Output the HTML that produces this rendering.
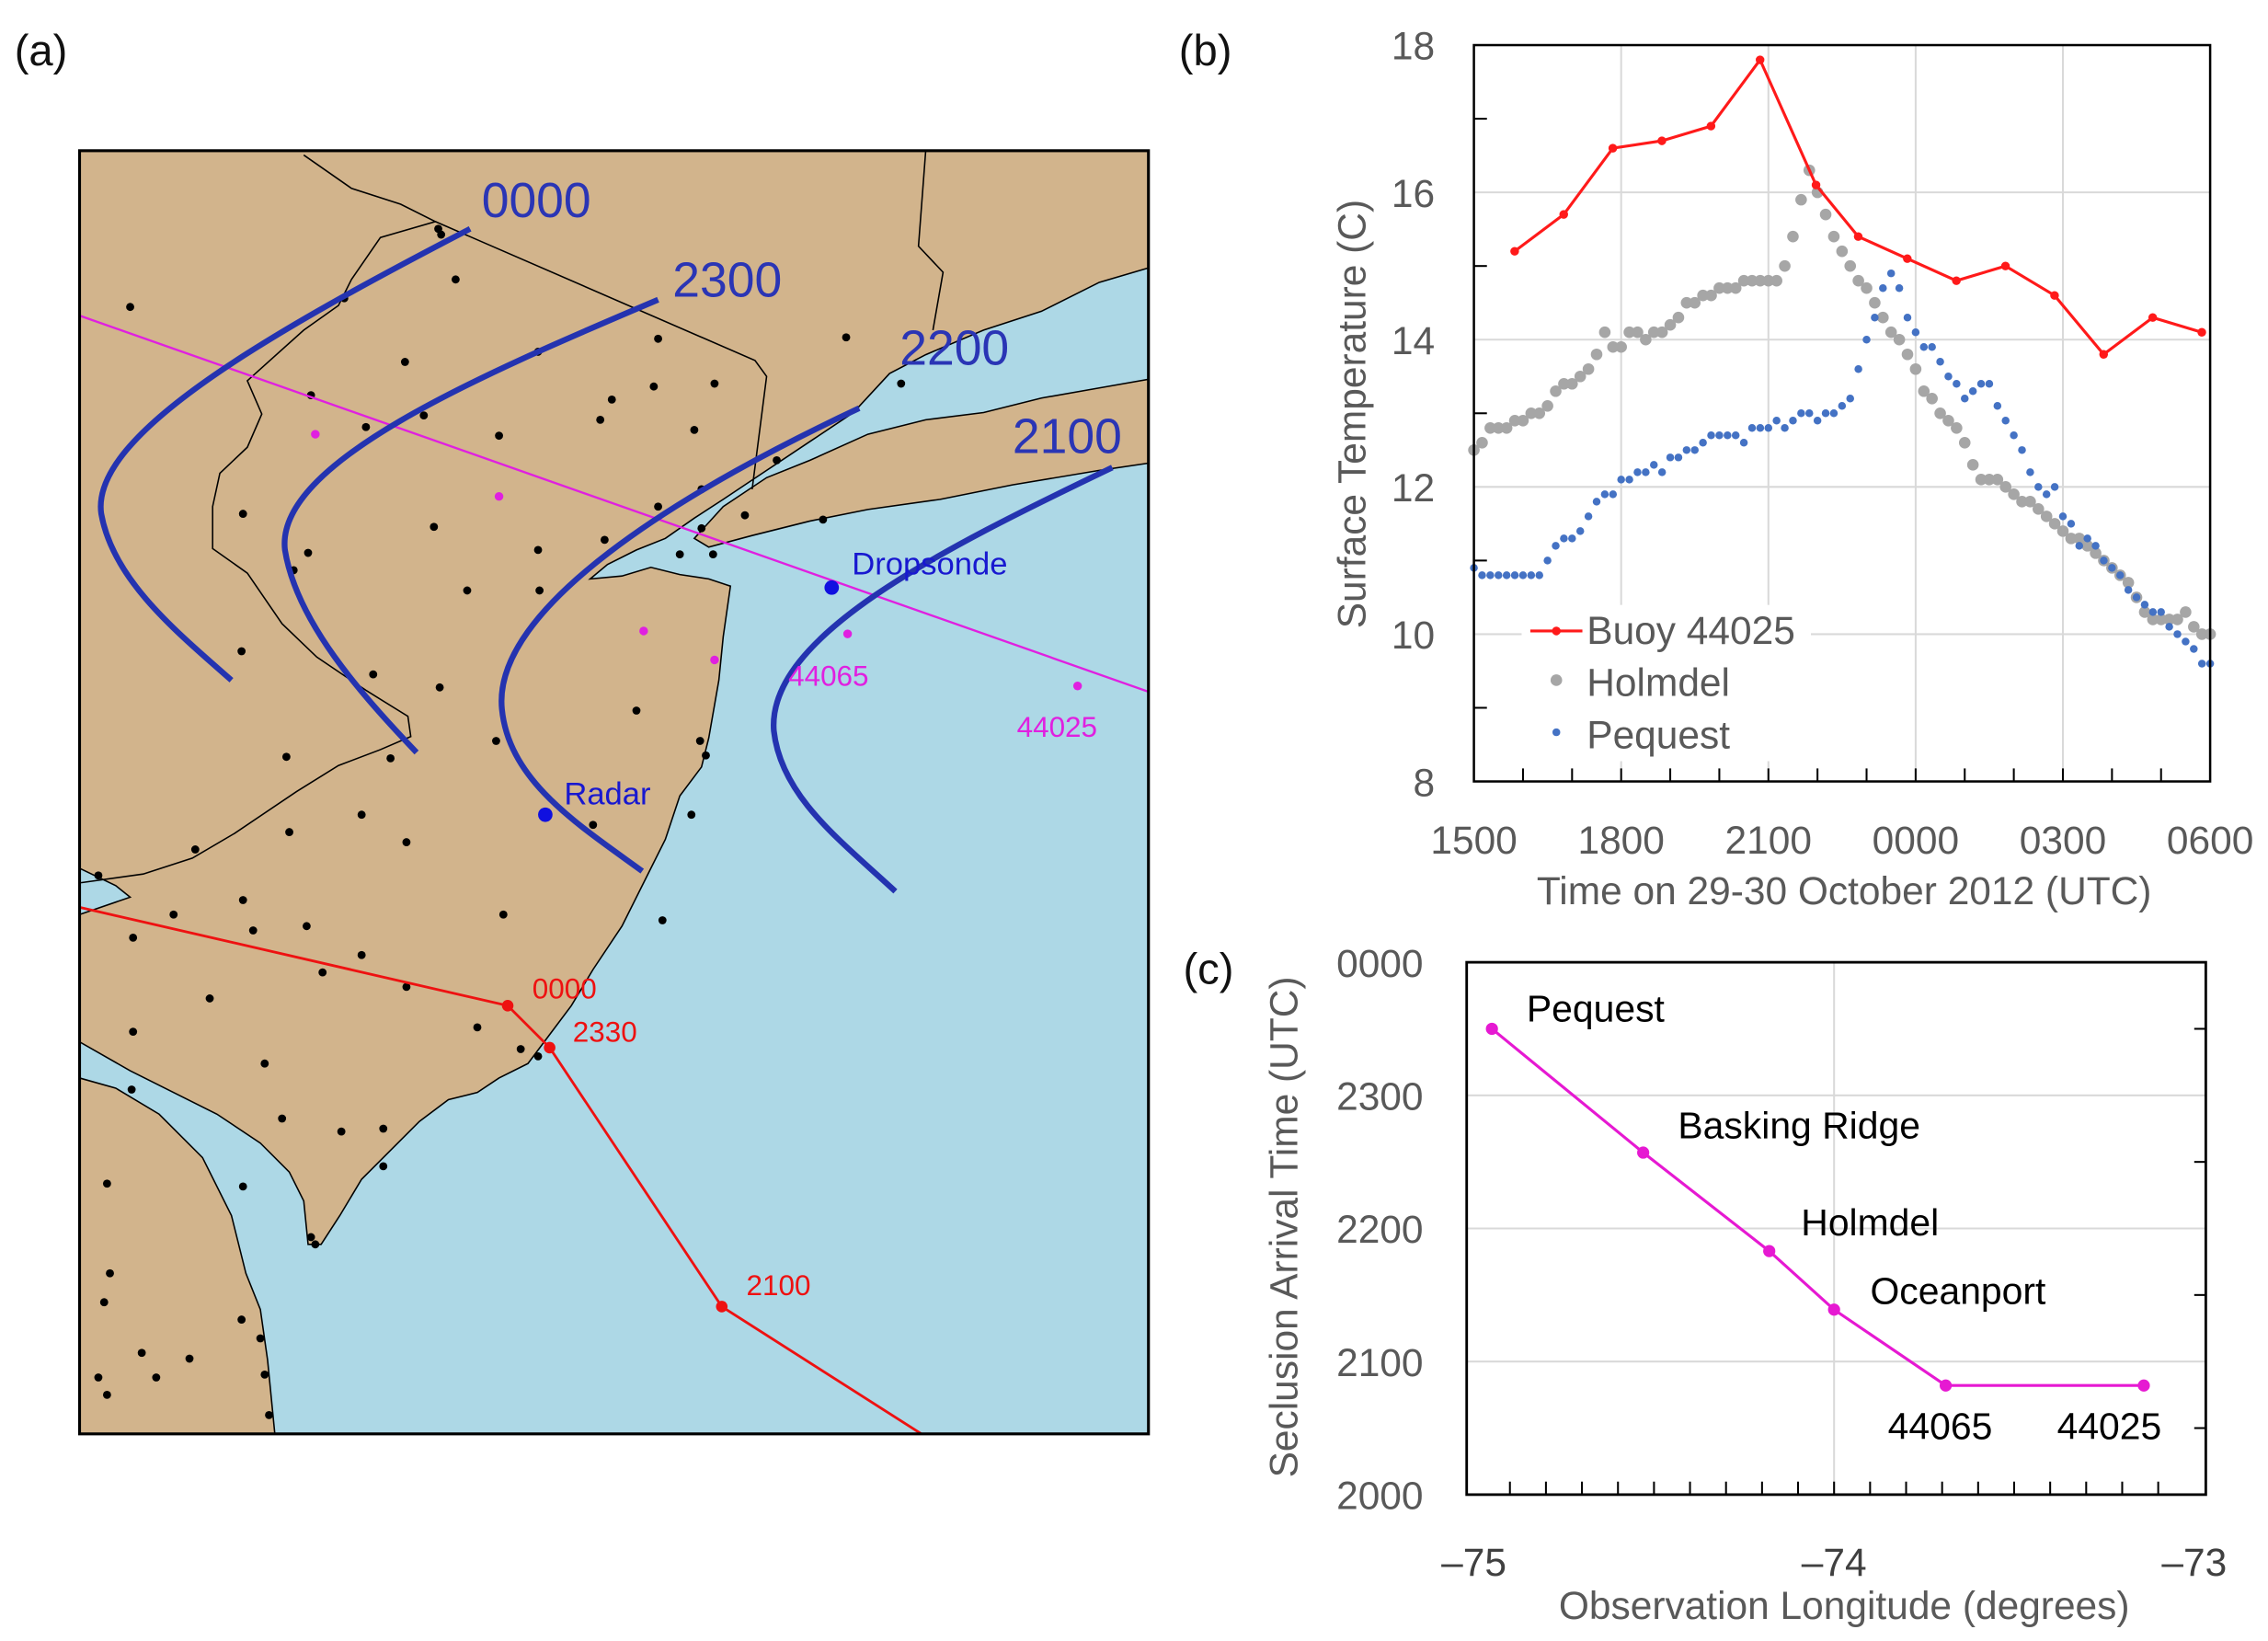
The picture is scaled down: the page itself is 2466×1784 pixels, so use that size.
<!DOCTYPE html>
<html><head><meta charset="utf-8"><style>
html,body{margin:0;padding:0;background:#fff}
svg{display:block}
text{font-family:"Liberation Sans",sans-serif}
</style></head><body>
<svg id="fig" xmlns="http://www.w3.org/2000/svg" width="2466" height="1784" viewBox="0 0 1568 1134">
<rect width="1568" height="1134" fill="#fff"/>
<g id="panelA">
  <text x="10" y="45" font-size="30" fill="#111">(a)</text>
  <clipPath id="mapclip"><rect x="55" y="104" width="739" height="887"/></clipPath>
  <g clip-path="url(#mapclip)">
    <rect x="55" y="104" width="739" height="887" fill="#add8e6"/>
    <polygon fill="#d2b48c" stroke="#000" stroke-width="1" points="55,104 794,104 794,185 760,195 720,215 680,228 640,245 615,258 590,285 560,305 530,325 500,345 480,358 460,372 440,380 420,390 408,400 430,398 450,392 470,397 490,400 505,405 500,440 497,470 490,510 485,530 470,550 460,580 445,610 430,640 410,670 395,695 380,715 365,735 345,745 330,755 310,760 290,775 270,795 250,815 235,840 222,860 213,860 210,830 200,810 180,790 150,770 120,755 90,740 55,720"/>
    <polygon fill="#d2b48c" stroke="#000" stroke-width="1" points="55,745 80,752 110,770 140,800 160,840 170,880 180,905 185,940 190,991 55,991"/>
    <polygon fill="#d2b48c" stroke="#000" stroke-width="1" points="480,372 500,350 530,330 560,318 600,300 640,290 680,285 720,275 760,268 794,262 794,320 760,325 700,335 650,345 600,352 560,360 520,370 490,378"/>
    <polygon fill="#add8e6" stroke="#000" stroke-width="1" points="55,600 80,612 90,620 55,632"/>
    <polyline fill="none" stroke="#000" stroke-width="1" points="301,153 522,249 530,260 520,338"/>
    <polyline fill="none" stroke="#000" stroke-width="1" points="210,107 243,130 277,141 301,153 263,164 243,193 234,211 210,228 171,263 181,286 171,309 152,327 147,350 147,379 171,396 195,431 219,454 253,477 282,495 284,509 263,518 234,529 205,547 162,576 133,593 99,604 56,610"/>
    <polyline fill="none" stroke="#000" stroke-width="1" points="640,104 635,170 652,188 645,228"/>
    <g id="mapDots"></g>
    <line x1="55" y1="218" x2="794" y2="478" stroke="#e020e0" stroke-width="1.5"/>
    <polyline fill="none" stroke="#ee1111" stroke-width="1.8" points="55,627 351,695 380,724 499,903 637,991"/>
    <path d="M325,158 C190,228 62,300 70,355 C78,400 120,435 160,470" fill="none" stroke="#2433b0" stroke-width="4"/>
    <path d="M455,207 C330,260 190,320 197,380 C205,430 250,480 288,520" fill="none" stroke="#2433b0" stroke-width="4"/>
    <path d="M594,282 C470,340 340,420 347,490 C352,540 400,570 444,602" fill="none" stroke="#2433b0" stroke-width="4"/>
    <path d="M769,323 C650,380 530,440 535,505 C540,550 580,580 619,616" fill="none" stroke="#2433b0" stroke-width="4"/>
  </g>
  <g fill="#e020e0">
    <circle cx="218" cy="300" r="3"/><circle cx="345" cy="343" r="3"/><circle cx="445" cy="436" r="3"/><circle cx="494" cy="456" r="3"/><circle cx="586" cy="438" r="3"/><circle cx="745" cy="474" r="3"/>
  </g>
  <text x="545" y="474" font-size="20" fill="#e020e0">44065</text>
  <text x="703" y="509" font-size="20" fill="#e020e0">44025</text>
  <circle cx="575" cy="406" r="5" fill="#1010e0"/>
  <text x="589" y="397" font-size="22" fill="#1818d0">Dropsonde</text>
  <circle cx="377" cy="563" r="5" fill="#1010e0"/>
  <text x="390" y="556" font-size="22" fill="#1818d0">Radar</text>
  <g fill="#ee1111"><circle cx="351" cy="695" r="4"/><circle cx="380" cy="724" r="4"/><circle cx="499" cy="903" r="4"/></g>
  <text x="368" y="690" font-size="20" fill="#ee1111">0000</text>
  <text x="396" y="720" font-size="20" fill="#ee1111">2330</text>
  <text x="516" y="895" font-size="20" fill="#ee1111">2100</text>
  <g font-size="34" fill="#2a35b5">
    <text x="333" y="150">0000</text><text x="465" y="205">2300</text><text x="622" y="252">2200</text><text x="700" y="313">2100</text>
  </g>
  <rect x="55" y="104" width="739" height="887" fill="none" stroke="#000" stroke-width="2"/>
</g>
<g id="panelB">
  <text x="815" y="45" font-size="30" fill="#111">(b)</text>
</g>
<g id="panelC">
  <text x="818" y="680" font-size="30" fill="#111">(c)</text>
</g>
</svg>
<script>
// ---- Panel (b) data ----
const bXTickLabels = ["1500","1800","2100","0000","0300","0600"];
const bYTicks = [8,10,12,14,16,18];
const buoyHours = [0.83,1.83,2.83,3.83,4.83,5.83,6.97,7.83,8.83,9.83,10.83,11.83,12.83,13.83,14.83];
const buoyTemps = [15.2,15.7,16.6,16.7,16.9,17.8,16.1,15.4,15.1,14.8,15.0,14.6,13.8,14.3,14.1];
const holmdelTemps = [12.5,12.6,12.8,12.8,12.8,12.9, 12.9,13.0,13.0,13.1,13.3,13.4, 13.4,13.5,13.6,13.8,14.1,13.9, 13.9,14.1,14.1,14.0,14.1,14.1, 14.2,14.3,14.5,14.5,14.6,14.6, 14.7,14.7,14.7,14.8,14.8,14.8, 14.8,14.8,15.0,15.4,15.9,16.3, 16.0,15.7,15.4,15.2,15.0,14.8, 14.7,14.5,14.3,14.1,14.0,13.8, 13.6,13.3,13.2,13.0,12.9,12.8, 12.6,12.3,12.1,12.1,12.1,12.0, 11.9,11.8,11.8,11.7,11.6,11.5, 11.4,11.3,11.3,11.2,11.1,11.0, 10.9,10.8,10.7,10.5,10.3,10.2, 10.2,10.2,10.2,10.3,10.1,10.0, 10.0];
const pequestTemps = [10.9,10.8,10.8,10.8,10.8,10.8, 10.8,10.8,10.8,11.0,11.2,11.3, 11.3,11.4,11.6,11.8,11.9,11.9, 12.1,12.1,12.2,12.2,12.3,12.2, 12.4,12.4,12.5,12.5,12.6,12.7, 12.7,12.7,12.7,12.6,12.8,12.8, 12.8,12.9,12.8,12.9,13.0,13.0, 12.9,13.0,13.0,13.1,13.2,13.6, 14.0,14.3,14.7,14.9,14.7,14.3, 14.1,13.9,13.9,13.7,13.5,13.4, 13.2,13.3,13.4,13.4,13.1,12.9, 12.7,12.5,12.2,12.0,11.9,12.0, 11.6,11.5,11.2,11.3,11.2,11.0, 10.9,10.8,10.6,10.5,10.4,10.3, 10.3,10.1,10.0,9.9,9.8,9.6, 9.6];
const sampleStepHours = 1/6;
// ---- Panel (c) data ----
const stationNames = ["Pequest","Basking Ridge","Holmdel","Oceanport","44065","44025"];
const stationLons = [-74.95,-74.53,-74.18,-74.0,-73.69,-73.14];
const arrivalHours = [23.5,22.57,21.83,21.39,20.82,20.82];
const cYTickLabels = ["2000","2100","2200","2300","0000"];
const cXTickValues = [-75,-74,-73];
// ---- Map station dots ----
const mapDotPos = [[90,212],[303,158],[305,162],[315,193],[238,206],[215,273],[280,250],[293,287],[253,295],[372,243],[455,234],[423,276],[452,267],[494,265],[480,297],[415,290],[345,301],[168,355],[213,382],[203,394],[300,364],[323,408],[373,408],[372,380],[418,373],[455,350],[485,338],[470,383],[485,365],[515,356],[537,318],[569,359],[585,233],[623,265],[493,383],[167,450],[258,466],[304,475],[343,512],[198,523],[270,524],[250,563],[200,575],[281,582],[440,491],[484,512],[488,522],[478,563],[410,570],[348,632],[458,636],[135,587],[68,605],[120,632],[92,648],[168,622],[175,643],[212,640],[223,672],[250,660],[281,682],[145,690],[92,713],[183,735],[330,710],[372,730],[360,725],[91,753],[195,773],[236,782],[265,806],[265,780],[168,820],[215,855],[218,860],[74,818],[76,880],[72,900],[98,935],[131,939],[108,952],[68,952],[74,964],[167,912],[180,925],[183,950],[186,978]];

const NS="http://www.w3.org/2000/svg";
function mk(tag, attrs, parent){const e=document.createElementNS(NS,tag);for(const k in attrs)e.setAttribute(k,attrs[k]);parent.appendChild(e);return e;}

const dotsG=document.getElementById('mapDots');
mapDotPos.forEach(p=>{const c=mk('circle',{cx:p[0],cy:p[1],r:2.8,fill:'#000'},dotsG);

});

// ---- Panel (b) ----
const B={l:1019,r:1528,t:31,b:540};
const bx=h=>B.l+h*(B.r-B.l)/15;
const by=v=>B.b-(v-8)*(B.b-B.t)/10;
const gB=document.getElementById('panelB');
[3,6,9,12].forEach(h=>{const g=mk('line',{x1:bx(h),x2:bx(h),y1:B.t,y2:B.b,stroke:'#d9d9d9','stroke-width':1.3},gB);

});
[10,12,14,16].forEach(v=>{const g=mk('line',{x1:B.l,x2:B.r,y1:by(v),y2:by(v),stroke:'#d9d9d9','stroke-width':1.3},gB);

});
for(let h=1;h<15;h++){const t=mk('line',{x1:bx(h),x2:bx(h),y1:B.b,y2:B.b-9,stroke:'#000','stroke-width':1.3},gB);

}
[9,11,13,15,17].forEach(v=>{const t=mk('line',{x1:B.l,x2:B.l+9,y1:by(v),y2:by(v),stroke:'#000','stroke-width':1.3},gB);

});
bXTickLabels.forEach((s,i)=>{const t=mk('text',{x:bx(i*3),y:590,'font-size':27,'text-anchor':'middle',fill:'#595959'},gB);t.textContent=s;

});
bYTicks.forEach(v=>{const t=mk('text',{x:992,y:by(v)+10,'font-size':27,'text-anchor':'end',fill:'#595959'},gB);t.textContent=v;

});
let tt=mk('text',{x:1275,y:625,'font-size':27,'text-anchor':'middle',fill:'#595959'},gB);tt.textContent='Time on 29-30 October 2012 (UTC)';


tt=mk('text',{x:944,y:286,'font-size':27,'text-anchor':'middle',fill:'#595959',transform:'rotate(-90 944 286)'},gB);tt.textContent='Surface Temperature (C)';


const lg=mk('rect',{x:1052,y:418,width:200,height:108,fill:'#fff'},gB);


holmdelTemps.forEach((v,i)=>{const c=mk('circle',{cx:bx(i*sampleStepHours),cy:by(v),r:4,fill:'#a6a6a6'},gB);

});
pequestTemps.forEach((v,i)=>{const c=mk('circle',{cx:bx(i*sampleStepHours),cy:by(v),r:2.7,fill:'#4472c4'},gB);

});
const bl=mk('polyline',{points:buoyHours.map((h,i)=>bx(h)+','+by(buoyTemps[i])).join(' '),fill:'none',stroke:'#ff1a1a','stroke-width':2},gB);


buoyHours.forEach((h,i)=>{const c=mk('circle',{cx:bx(h),cy:by(buoyTemps[i]),r:3,fill:'#ff1a1a'},gB);

});
let le=mk('line',{x1:1058,x2:1094,y1:436,y2:436,stroke:'#ff1a1a','stroke-width':2},gB);


mk('circle',{cx:1076,cy:436,r:3,fill:'#ff1a1a'},gB);
mk('circle',{cx:1076,cy:470,r:4,fill:'#a6a6a6'},gB);
mk('circle',{cx:1076,cy:506,r:2.7,fill:'#4472c4'},gB);
[['Buoy 44025',445],['Holmdel',481],['Pequest',517]].forEach(a=>{const t=mk('text',{x:1097,y:a[1],'font-size':27,fill:'#595959'},gB);t.textContent=a[0];

});
const bf=mk('rect',{x:B.l,y:B.t,width:B.r-B.l,height:B.b-B.t,fill:'none',stroke:'#000','stroke-width':1.6},gB);



// ---- Panel (c) ----
const C={l:1014,r:1525,t:665,b:1033};
const cx=lon=>1019+(lon+75)*249;
const cy=h=>C.b-(h-20)*(C.b-C.t)/4;
const gC=document.getElementById('panelC');
let gl=mk('line',{x1:cx(-74),x2:cx(-74),y1:C.t,y2:C.b,stroke:'#d9d9d9','stroke-width':1.3},gC);


[21,22,23].forEach(h=>{const g=mk('line',{x1:C.l,x2:C.r,y1:cy(h),y2:cy(h),stroke:'#d9d9d9','stroke-width':1.3},gC);

});
[20.5,21.5,22.5,23.5].forEach(h=>{const t=mk('line',{x1:C.r,x2:C.r-8,y1:cy(h),y2:cy(h),stroke:'#000','stroke-width':1.3},gC);

});
for(let k=1;k<20;k++){const lon=-75+k*0.1;const t=mk('line',{x1:cx(lon),x2:cx(lon),y1:C.b,y2:C.b-9,stroke:'#000','stroke-width':1.3},gC);

}
cYTickLabels.forEach((s,i)=>{const t=mk('text',{x:984,y:cy(20+i)+10,'font-size':27,'text-anchor':'end',fill:'#595959'},gC);t.textContent=s;

});
cXTickValues.forEach(v=>{const t=mk('text',{x:cx(v),y:1089,'font-size':27,'text-anchor':'middle',fill:'#404040'},gC);t.textContent='\u2013'+Math.abs(v);

});
tt=mk('text',{x:1275,y:1119,'font-size':27,'text-anchor':'middle',fill:'#595959'},gC);tt.textContent='Observation Longitude (degrees)';


tt=mk('text',{x:897,y:848,'font-size':27,'text-anchor':'middle',fill:'#595959',transform:'rotate(-90 897 848)'},gC);tt.textContent='Seclusion Arrival Time (UTC)';


const cl=mk('polyline',{points:stationLons.map((l,i)=>cx(l)+','+cy(arrivalHours[i])).join(' '),fill:'none',stroke:'#e619d2','stroke-width':2},gC);


const labelOff=[[24,-5],[24,-10],[22,-11],[25,-4],[-40,37],[-60,37]];
stationLons.forEach((l,i)=>{const c=mk('circle',{cx:cx(l),cy:cy(arrivalHours[i]),r:4.2,fill:'#e619d2'},gC);


const t=mk('text',{x:cx(l)+labelOff[i][0],y:cy(arrivalHours[i])+labelOff[i][1],'font-size':26,fill:'#000'},gC);t.textContent=stationNames[i];

});
const cf=mk('rect',{x:C.l,y:C.t,width:C.r-C.l,height:C.b-C.t,fill:'none',stroke:'#000','stroke-width':1.8},gC);


</script>
</body></html>
